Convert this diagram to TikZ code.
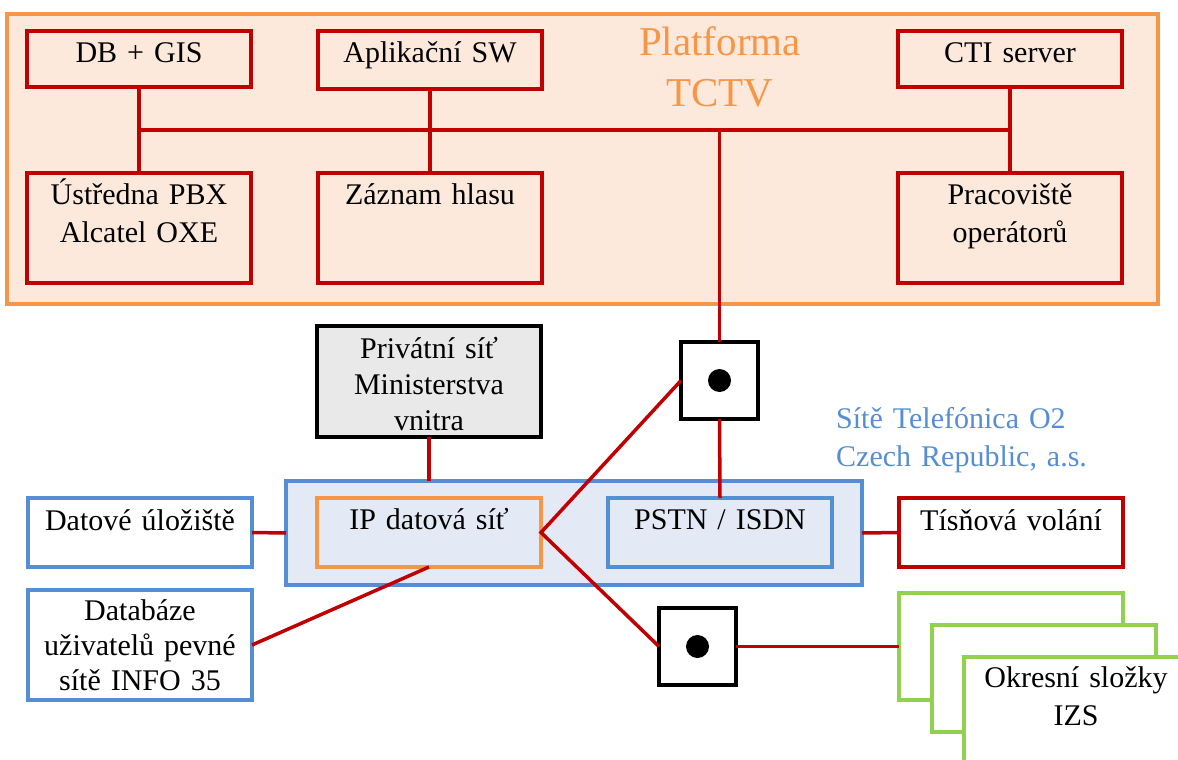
\documentclass[tikz,border=0pt]{standalone}
\usepackage{fontspec}
\setmainfont{Liberation Serif}
\usetikzlibrary{positioning,calc}
\definecolor{tcred}{HTML}{C00000}
\definecolor{tcorange}{HTML}{F79646}
\definecolor{tcblue}{HTML}{558ED5}
\definecolor{tcgreen}{HTML}{92D050}
\definecolor{peachdots}{HTML}{FDE9DB}
\definecolor{bluedots}{HTML}{E3EAF5}
\definecolor{greydots}{HTML}{E9E9E9}
\begin{document}
\begin{tikzpicture}[x=1pt,y=-1pt]

\tikzstyle{box}=[draw,line width=4pt,inner sep=0pt,outer sep=0pt,minimum width=224pt,anchor=north west]
\tikzstyle{redbox}=[box,draw=tcred]
\tikzstyle{bluebox}=[box,draw=tcblue,fill=white]
\tikzstyle{greenbox}=[box,draw=tcgreen,fill=white,line width=3.5pt,minimum height=107pt]
\tikzstyle{switch}=[box,draw=black,fill=white,minimum width=77pt,minimum height=77pt]
\tikzstyle{txt}=[inner sep=0pt,text width=224pt,align=center,anchor=base,font=\fontsize{30}{38}\selectfont]
\tikzstyle{link}=[tcred,line width=3.5pt]

\useasboundingbox (0,0) rectangle (1178,760);

% platforma TCTV
\node (tctv) [box,draw=tcorange,fill=peachdots,line width=3.5pt,minimum width=1151pt,minimum height=290pt] at (7,14) {};
\node (tctv_t) [inner sep=0pt,text width=300pt,align=center,anchor=base,text=tcorange,font=\fontsize{41}{51}\selectfont] at (720,56) {Platforma\\TCTV};

\node (dbgis) [redbox,minimum height=56pt] at (27,31) {};
\node (apl) [redbox,minimum height=58pt] at (318,31) {};
\node (cti) [redbox,minimum height=56pt] at (898,31) {};
\node (pbx) [redbox,minimum height=110pt] at (27,173) {};
\node (rec) [redbox,minimum height=110pt] at (318,173) {};
\node (oper) [redbox,minimum height=110pt] at (898,173) {};

\node (dbgis_t) [txt] at ([yshift=-32pt]dbgis.north) {DB + GIS};
\node (apl_t) [txt] at ([yshift=-32pt]apl.north) {Aplikační SW};
\node (cti_t) [txt] at ([yshift=-32pt]cti.north) {CTI server};
\node (pbx_t) [txt] at ([yshift=-31pt]pbx.north) {Ústředna PBX\\Alcatel OXE};
\node (rec_t) [txt] at ([yshift=-31pt]rec.north) {Záznam hlasu};
\node (oper_t) [txt] at ([yshift=-31pt]oper.north) {Pracoviště\\operátorů};

\coordinate (bus) at (0,130);
\draw[link] (dbgis.south) -- (pbx.north);
\draw[link] (apl.south) -- (rec.north);
\draw[link] (cti.south) -- (oper.north);
\draw[link] (dbgis.south |- bus) -- (cti.south |- bus);

% site
\node (priv) [box,fill=greydots,minimum height=111pt] at (317,326) {};
\node (priv_t) [txt,font=\fontsize{30}{36}\selectfont] at ([yshift=-32pt]priv.north) {Privátní síť\\Ministerstva\\vnitra};

\node (net) [box,draw=tcblue,fill=bluedots,minimum width=576pt,minimum height=104pt] at (286,481) {};
\node (ip) [box,draw=tcorange,fill=bluedots,minimum height=69pt] at (317,498) {};
\node (pstn) [box,draw=tcblue,fill=bluedots,minimum height=69pt] at (608,498) {};
\node (ip_t) [txt] at ([yshift=-31pt]ip.north) {IP datová síť};
\node (pstn_t) [txt] at ([yshift=-31pt]pstn.north) {PSTN / ISDN};
\node (o2_t) [inner sep=0pt,text width=330pt,align=left,anchor=base west,text=tcblue,font=\fontsize{30}{38}\selectfont] at (836,428) {Sítě Telefónica O2\\Czech Republic, a.s.};

\node (sw1) [switch] at (681,342) {};
\node (sw2) [switch] at (659,608) {};
\fill (sw1.center) circle (11.5pt);
\fill (sw2.center) circle (11.5pt);

\node (store) [bluebox,minimum height=69pt] at (28,498) {};
\node (db35) [bluebox,minimum height=110pt] at (28,590) {};
\node (sos) [redbox,fill=white,minimum height=69pt] at (899,498) {};
\node (store_t) [txt] at ([yshift=-32pt]store.north) {Datové úložiště};
\node (db35_t) [txt,font=\fontsize{30}{35}\selectfont] at ([yshift=-30pt]db35.north) {Databáze\\uživatelů pevné\\sítě INFO 35};
\node (sos_t) [txt] at ([yshift=-32pt]sos.north) {Tísňová volání};

\draw[link] (sw1.north) -- (sw1.north |- bus);
\draw[link] (priv.south) -- (priv.south |- net.north);
\draw[link] (sw1.south) -- (pstn.north);
\draw[link] (sw1.west) -- (ip.east) -- (sw2.west);
\draw[link] (ip.south) -- (db35.east);
\draw[link] (store.east) -- (net.west);
\draw[link] (net.east) -- (sos.west);

% okresni slozky
\node (izs1) [greenbox] at (899,593) {};
\node (izs2) [greenbox] at (932,625) {};
\node (izs3) [greenbox] at (964,657) {};
\node (izs_t) [txt] at ([yshift=-30pt]izs3.north) {Okresní složky\\IZS};
\draw[link] (sw2.east) -- (izs1.west);

\end{tikzpicture}
\end{document}
